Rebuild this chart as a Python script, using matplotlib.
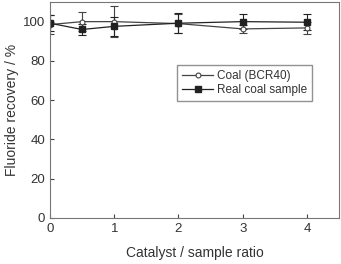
import numpy as np
import matplotlib.pyplot as plt

plt.rcParams['font.family'] = ['Liberation Sans', 'DejaVu Sans']

ratio = [0, 0.5, 1, 2, 3, 4]
coal = [98.5, 100.0, 100.0, 99.0, 96.3, 96.8]
coal_err = [5.0, 4.8, 8.0, 5.0, 2.0, 3.2]
real = [99.2, 96.0, 97.6, 99.2, 100.0, 99.7]
real_err = [4.0, 2.8, 5.0, 5.0, 3.7, 4.0]

GREY = '#444444'

fig = plt.figure(figsize=(3.41, 2.64), dpi=100)
ax = fig.add_axes([50 / 341, 46 / 264, 289 / 341, 216 / 264])

e1 = ax.errorbar(ratio, coal, yerr=coal_err, color=GREY, lw=0.9, marker='o',
                 ms=3.5, mfc='white', mec=GREY, mew=0.8, capsize=3,
                 elinewidth=0.8, capthick=0.8)
e2 = ax.errorbar(ratio, real, yerr=real_err, color='#222222', lw=0.9,
                 marker='s', ms=4, mfc='#222222', mec='#222222', capsize=3,
                 elinewidth=0.8, capthick=0.8)

ax.set_xlim(0, 4.5)
ax.set_ylim(0, 110)
ax.set_xticks([0, 1, 2, 3, 4])
ax.set_yticks([0, 20, 40, 60, 80, 100])
ax.tick_params(direction='in', length=3, colors=GREY, labelsize=9.5,
               labelcolor='#333333')
for s in ax.spines.values():
    s.set_color('#777777')
    s.set_linewidth(0.8)

ax.set_xlabel('Catalyst / sample ratio', fontsize=10, color='#333333', labelpad=8)
ax.set_ylabel('Fluoride recovery / %', fontsize=10, color='#333333', labelpad=3)

leg = ax.legend([e1[0], e2[0]], ['Coal (BCR40)', 'Real coal sample'],
                loc='upper left', bbox_to_anchor=(0.44, 0.71), fontsize=8.5,
                frameon=True, fancybox=False, edgecolor='#777777',
                handlelength=2.6, borderpad=0.45, labelspacing=0.15,
                handletextpad=0.3, borderaxespad=0)
for t in leg.get_texts():
    t.set_color('#333333')

fig.savefig('out.png', dpi=100)
